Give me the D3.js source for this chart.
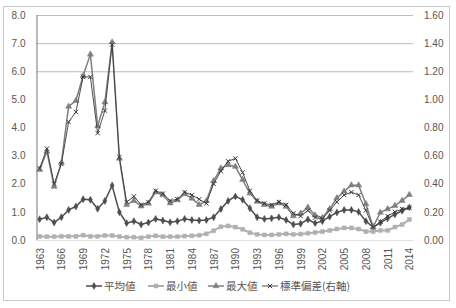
<!DOCTYPE html>
<html>
<head>
<meta charset="utf-8">
<script src="https://cdn.jsdelivr.net/npm/d3@7"></script>
<style>
  body { margin: 0; background: #fff; }
  svg { display: block; }
  text { font-family: "Liberation Sans", "Noto Sans CJK JP", sans-serif; fill: #555; }
</style>
</head>
<body>
<div id="chart"></div>
<script>
// Year-by-year stats (left axis: mean/min/max, right axis: std dev)
const years = d3.range(1963, 2015);
const tickYears = d3.range(1963, 2015, 3);

const meanVals = [0.74, 0.81, 0.62, 0.81, 1.07, 1.19, 1.45, 1.43, 1.11, 1.39, 1.94, 0.99, 0.60, 0.67, 0.55, 0.62,
  0.75, 0.69, 0.63, 0.67, 0.75, 0.71, 0.69, 0.71, 0.81, 1.10, 1.39, 1.55, 1.43, 1.13, 0.81, 0.75, 0.77, 0.81,
  0.71, 0.55, 0.58, 0.73, 0.60, 0.67, 0.83, 0.98, 1.07, 1.07, 1.00, 0.67, 0.46, 0.61, 0.77, 0.91, 1.04, 1.16];

const minVals = [0.13, 0.12, 0.12, 0.13, 0.13, 0.13, 0.17, 0.13, 0.13, 0.16, 0.16, 0.12, 0.10, 0.10, 0.08, 0.12,
  0.15, 0.12, 0.12, 0.12, 0.14, 0.15, 0.17, 0.22, 0.33, 0.47, 0.50, 0.46, 0.38, 0.26, 0.20, 0.18, 0.18, 0.20,
  0.22, 0.20, 0.21, 0.24, 0.27, 0.30, 0.34, 0.39, 0.43, 0.43, 0.39, 0.30, 0.30, 0.34, 0.34, 0.46, 0.55, 0.73];

const maxVals = [2.50, 3.15, 1.90, 2.75, 4.75, 4.95, 5.84, 6.60, 4.05, 4.90, 7.03, 2.90, 1.25, 1.40, 1.20, 1.30,
  1.70, 1.60, 1.31, 1.42, 1.64, 1.48, 1.25, 1.39, 2.10, 2.55, 2.67, 2.61, 2.14, 1.66, 1.37, 1.25, 1.19, 1.31,
  1.19, 0.85, 0.95, 1.16, 0.88, 0.79, 1.10, 1.49, 1.73, 1.95, 1.95, 1.28, 0.46, 0.98, 1.10, 1.22, 1.40, 1.61];

const sdVals = [0.51, 0.65, 0.40, 0.54, 0.84, 0.91, 1.16, 1.16, 0.76, 0.92, 1.39, 0.59, 0.27, 0.31, 0.25, 0.27,
  0.35, 0.33, 0.28, 0.29, 0.34, 0.32, 0.29, 0.26, 0.40, 0.49, 0.56, 0.58, 0.48, 0.35, 0.28, 0.26, 0.25, 0.27,
  0.25, 0.19, 0.17, 0.21, 0.16, 0.15, 0.21, 0.27, 0.32, 0.34, 0.32, 0.21, 0.09, 0.13, 0.17, 0.20, 0.22, 0.23];

const leftTicks = [0, 1, 2, 3, 4, 5, 6, 7, 8];
const rightTicks = [0, 0.2, 0.4, 0.6, 0.8, 1.0, 1.2, 1.4, 1.6];
const gridTicks = [6, 7, 8];

const W = 456, H = 308;
const plot = { left: 36, right: 413, top: 15, bottom: 240 };

const svg = d3.select('#chart').append('svg').attr('width', W).attr('height', H);

// outer frame
svg.append('rect').attr('x', 3.5).attr('y', 6.5).attr('width', 446).attr('height', 294)
  .attr('fill', 'none').attr('stroke', '#c8c8c8');

const x = d3.scalePoint().domain(years).range([plot.left, plot.right]).padding(0.5);
const yL = d3.scaleLinear().domain([0, 8]).range([plot.bottom, plot.top]);
const yR = d3.scaleLinear().domain([0, 1.6]).range([plot.bottom, plot.top]);

// gridlines (only the upper ones show in the original)
svg.append('g').selectAll('line').data(gridTicks).enter().append('line')
  .attr('x1', plot.left).attr('x2', plot.right)
  .attr('y1', d => yL(d) + 0.5).attr('y2', d => yL(d) + 0.5)
  .attr('stroke', '#bdbdbd');

// left axis
const axL = svg.append('g').attr('transform', `translate(${plot.left + 0.5},0)`)
  .call(d3.axisLeft(yL).tickValues(leftTicks).tickFormat(d3.format('.1f')).tickSize(0).tickPadding(11));
axL.select('.domain').attr('stroke', '#777');
axL.selectAll('text').style('font-size', '10px').attr('fill', '#555');

// right axis
const axR = svg.append('g').attr('transform', `translate(${plot.right},0)`)
  .call(d3.axisRight(yR).tickValues(rightTicks).tickFormat(d3.format('.2f')).tickSize(0).tickPadding(11));
axR.select('.domain').remove();
axR.selectAll('text').style('font-size', '10px').attr('fill', '#555');

// bottom axis labels
const axB = svg.append('g').attr('transform', `translate(0,${plot.bottom})`)
  .call(d3.axisBottom(x).tickValues(tickYears).tickSize(0).tickPadding(0));
axB.select('.domain').attr('stroke', '#e2e2e2');
axB.selectAll('text')
  .style('font-size', '10px')
  .attr('fill', '#555')
  .attr('transform', 'rotate(-90)')
  .attr('text-anchor', 'end')
  .attr('x', -8).attr('y', 0).attr('dy', '0.35em');

// series definitions
const series = [
  { name: '平均値', vals: meanVals, scale: yL, color: '#4d4d4d', width: 1.5, marker: 'diamond', size: 14 },
  { name: '最小値', vals: minVals, scale: yL, color: '#b0b0b0', width: 2, marker: 'square', size: 16 },
  { name: '最大値', vals: maxVals, scale: yL, color: '#7f7f7f', width: 1.5, marker: 'triangle', size: 16 },
  { name: '標準偏差(右軸)', vals: sdVals, scale: yR, color: '#3a3a3a', width: 0.9, marker: 'cross', size: 14 }
];

const symbolType = {
  diamond: d3.symbolDiamond,
  square: d3.symbolSquare,
  triangle: d3.symbolTriangle,
  cross: d3.symbolX
};

function drawMarker(sel, s) {
  const sym = d3.symbol().type(symbolType[s.marker]).size(s.size);
  sel.append('path').attr('d', sym)
    .attr('fill', s.marker === 'cross' ? 'none' : s.color)
    .attr('stroke', s.color)
    .attr('stroke-width', s.marker === 'cross' ? 1 : 0.5);
}

series.forEach(s => {
  const line = d3.line().x((d, i) => x(years[i])).y(d => s.scale(d));
  svg.append('path').datum(s.vals)
    .attr('d', line)
    .attr('fill', 'none')
    .attr('stroke', s.color)
    .attr('stroke-width', s.width);
  svg.append('g').selectAll('g').data(s.vals).enter().append('g')
    .attr('transform', (d, i) => `translate(${x(years[i])},${s.scale(d)})`)
    .each(function () { drawMarker(d3.select(this), s); });
});

// legend
const legendX = [86, 148, 208, 262];
const legendY = 286;
series.forEach((s, i) => {
  const g = svg.append('g').attr('transform', `translate(${legendX[i]},${legendY})`);
  g.append('line').attr('x1', 0).attr('x2', 16).attr('y1', 0).attr('y2', 0)
    .attr('stroke', s.color).attr('stroke-width', s.width);
  const m = g.append('g').attr('transform', 'translate(8,0)');
  drawMarker(m, s);
  g.append('text').attr('x', 18).attr('y', 0).attr('dy', '0.36em')
    .style('font-family', '"Noto Sans CJK JP", sans-serif')
    .style('font-size', '10.5px')
    .attr('fill', '#444')
    .text(s.name);
});
</script>
</body>
</html>
